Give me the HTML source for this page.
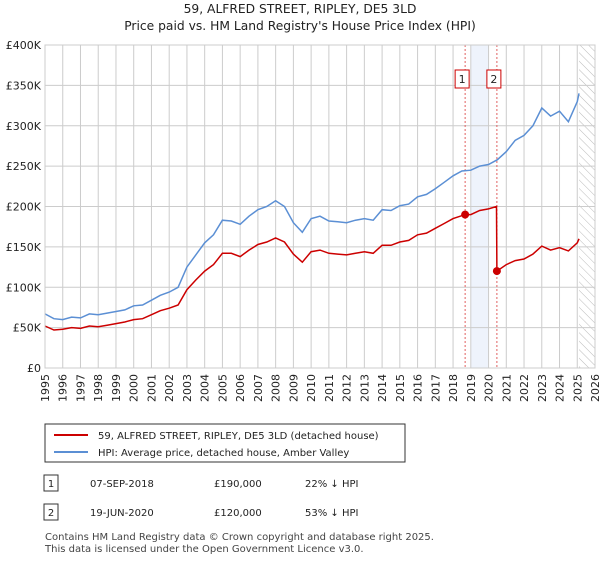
<!DOCTYPE html>
<html><head><meta charset="utf-8"><style>
body{margin:0;background:#fff;font-family:"Liberation Sans","DejaVu Sans",sans-serif;}
svg text{font-family:"DejaVu Sans","Liberation Sans",sans-serif;}
</style></head><body>
<svg id="c" width="600" height="560" xmlns="http://www.w3.org/2000/svg">
<defs><pattern id="hatch" width="6" height="6" patternUnits="userSpaceOnUse" patternTransform="rotate(-45)"><line x1="0" y1="0" x2="0" y2="6" stroke="#bbb" stroke-width="1"/></pattern></defs>
<text x="300" y="13" text-anchor="middle" font-size="12.3" fill="#222">59, ALFRED STREET, RIPLEY, DE5 3LD</text>
<text x="300" y="30" text-anchor="middle" font-size="12.3" fill="#222">Price paid vs. HM Land Registry's House Price Index (HPI)</text>
<g id="plot"></g>
<g>
<rect x="45" y="424" width="360" height="38" fill="#fff" stroke="#333"/>
<line x1="54" y1="435" x2="88" y2="435" stroke="#cc0000" stroke-width="2"/>
<text x="98" y="439" font-size="10" fill="#222">59, ALFRED STREET, RIPLEY, DE5 3LD (detached house)</text>
<line x1="54" y1="452" x2="88" y2="452" stroke="#5b8fd4" stroke-width="2"/>
<text x="98" y="456" font-size="10" fill="#222">HPI: Average price, detached house, Amber Valley</text>
</g>
<g font-size="10" fill="#222">
<rect x="44" y="475" width="14" height="16" fill="#fff" stroke="#333"/><text x="51" y="487" text-anchor="middle">1</text>
<text x="90" y="487">07-SEP-2018</text><text x="214" y="487">£190,000</text><text x="305" y="487">22% ↓ HPI</text>
<rect x="44" y="504" width="14" height="16" fill="#fff" stroke="#333"/><text x="51" y="516" text-anchor="middle">2</text>
<text x="90" y="516">19-JUN-2020</text><text x="214" y="516">£120,000</text><text x="305" y="516">53% ↓ HPI</text>
</g>
<text x="45" y="540" font-size="10" fill="#444">Contains HM Land Registry data © Crown copyright and database right 2025.</text>
<text x="45" y="552" font-size="10" fill="#444">This data is licensed under the Open Government Licence v3.0.</text>
</svg>
<script>
const yTicks=[0,50,100,150,200,250,300,350,400];
const yTickLabels=["£0","£50K","£100K","£150K","£200K","£250K","£300K","£350K","£400K"];
const years=[1995,1996,1997,1998,1999,2000,2001,2002,2003,2004,2005,2006,2007,2008,2009,2010,2011,2012,2013,2014,2015,2016,2017,2018,2019,2020,2021,2022,2023,2024,2025,2026];
const hpiT=[1995,1995.5,1996,1996.5,1997,1997.5,1998,1998.5,1999,1999.5,2000,2000.5,2001,2001.5,2002,2002.5,2003,2003.5,2004,2004.5,2005,2005.5,2006,2006.5,2007,2007.5,2008,2008.5,2009,2009.5,2010,2010.5,2011,2011.5,2012,2012.5,2013,2013.5,2014,2014.5,2015,2015.5,2016,2016.5,2017,2017.5,2018,2018.5,2019,2019.5,2020,2020.5,2021,2021.5,2022,2022.5,2023,2023.5,2024,2024.5,2025,2025.1];
const hpiV=[67,61,60,63,62,67,66,68,70,72,77,78,84,90,94,100,125,140,155,165,183,182,178,188,196,200,207,200,180,168,185,188,182,181,180,183,185,183,196,195,201,203,212,215,222,230,238,244,245,250,252,258,268,282,288,300,322,312,318,305,330,340];
const priceT=[1995,1995.5,1996,1996.5,1997,1997.5,1998,1998.5,1999,1999.5,2000,2000.5,2001,2001.5,2002,2002.5,2003,2003.5,2004,2004.5,2005,2005.5,2006,2006.5,2007,2007.5,2008,2008.5,2009,2009.5,2010,2010.5,2011,2011.5,2012,2012.5,2013,2013.5,2014,2014.5,2015,2015.5,2016,2016.5,2017,2017.5,2018,2018.68,2019,2019.5,2020,2020.45,2020.47,2021,2021.5,2022,2022.5,2023,2023.5,2024,2024.5,2025,2025.1];
const priceV=[52,47,48,50,49,52,51,53,55,57,60,61,66,71,74,78,97,109,120,128,142,142,138,146,153,156,161,156,141,131,144,146,142,141,140,142,144,142,152,152,156,158,165,167,173,179,185,190,190,195,197,200,120,128,133,135,141,151,146,149,145,155,160];
const saleT=[2018.68,2020.47];
const saleV=[190,120];
const saleLabels=["1","2"];
const L=45,R=595,T=45,B=368;
const x=t=>L+(t-1995)/(2026-1995)*(R-L);
const y=v=>B-v/400*(B-T);
const NS="http://www.w3.org/2000/svg",g=document.getElementById('plot');
function mk(tag,a,p){const e=document.createElementNS(NS,tag);for(const k in a)e.setAttribute(k,a[k]);(p||g).appendChild(e);return e;}
let e=mk('rect',{x:x(2019),y:T,width:x(2020)-x(2019),height:B-T,fill:'#eef3fc'});

e=mk('rect',{x:x(2025.1),y:T,width:R-x(2025.1),height:B-T,fill:'url(#hatch)'});

years.forEach(t=>{e=mk('line',{x1:x(t),x2:x(t),y1:T,y2:B,stroke:'#ccc'});

e=mk('text',{x:0,y:0,'font-size':11,fill:'#222','text-anchor':'end',transform:`translate(${x(t)+4},${B+6}) rotate(-90)`});e.textContent=t;
});
yTicks.forEach((v,i)=>{e=mk('line',{x1:L,x2:R,y1:y(v),y2:y(v),stroke:'#ccc'});

e=mk('text',{x:L-4,y:y(v)+4,'font-size':11,fill:'#222','text-anchor':'end'});e.textContent=yTickLabels[i];
});
saleT.forEach((t,i)=>{e=mk('line',{x1:x(t),x2:x(t),y1:T,y2:B,stroke:'#e06060','stroke-dasharray':'2,2'});

e=mk('rect',{x:x(t)-10,y:70,width:14,height:18,fill:'#fff',stroke:'#cc0000'});

e=mk('text',{x:x(t)-3,y:83,'font-size':11,fill:'#222','text-anchor':'middle'});e.textContent=saleLabels[i];
});
const path=(ts,vs)=>ts.map((t,i)=>(i?'L':'M')+x(t).toFixed(1)+','+y(vs[i]).toFixed(1)).join('');
e=mk('path',{d:path(hpiT,hpiV),fill:'none',stroke:'#5b8fd4','stroke-width':1.5});

e=mk('path',{d:path(priceT,priceV),fill:'none',stroke:'#cc0000','stroke-width':1.5});

saleT.forEach((t,i)=>{e=mk('circle',{cx:x(t),cy:y(saleV[i]),r:4,fill:'#cc0000'});
});
e=mk('rect',{x:L,y:T,width:R-L,height:B-T,fill:'none',stroke:'#ccc'});

</script>
</body></html>
